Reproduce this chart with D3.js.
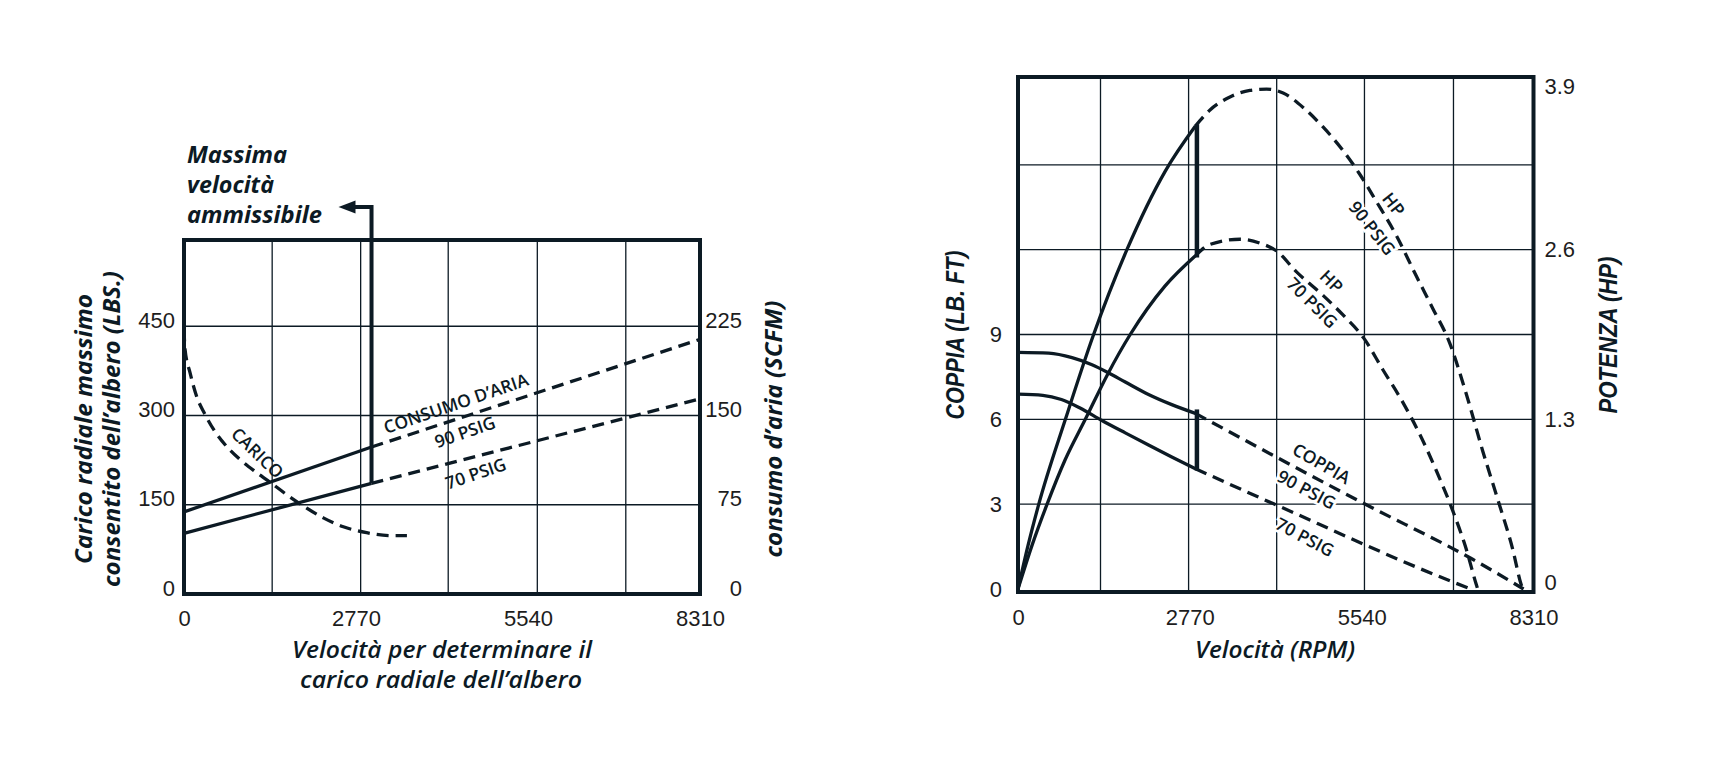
<!DOCTYPE html>
<html>
<head>
<meta charset="utf-8">
<script src="https://cdn.jsdelivr.net/npm/d3@7"></script>
<style>
  body { margin: 0; background: #fff; }
  svg { display: block; }
</style>
</head>
<body>
<svg id="chart"></svg>
<script>
// ---- data ----
const speedTicks = [0, 2770, 5540, 8310];
const loadTicks = [0, 150, 300, 450];
const airTicks = [0, 75, 150, 225];
const torqueTicks = [0, 3, 6, 9];
const powerTicks = [0, 1.3, 2.6, 3.9];

const leftGridX = [1420, 2845, 4255, 5690, 7115];
const rightGridX = [1330, 2750, 4170, 5585, 7020];
const loadGrid = [150, 300, 450];
const torqueGrid = [3, 6, 9, 12, 15];

const maxSpeedLeft = 3020;   // rpm, "Massima velocità ammissibile"
const maxSpeedRight = 2860;

// [rpm, lbs]
const caricoLoad = [[0, 445], [16, 412], [97, 372], [204, 332], [338, 302], [499, 273], [687, 248],
  [902, 226], [1143, 206], [1385, 188], [1654, 167], [1922, 148], [2244, 128], [2566, 113],
  [2942, 103], [3371, 98], [3590, 98]];
// [rpm, scfm]
const air90 = [[0, 69], [3020, 123.5], [8310, 214]];
const air70 = [[0, 51], [3020, 93], [8310, 164]];

// [rpm, lb-ft]
const torque90 = [[0, 8.37], [496, 8.34], [871, 8.18], [1193, 7.93], [1461, 7.64], [1729, 7.32],
  [2104, 6.88], [2479, 6.52], [2860, 6.21], [5560, 3.04], [7329, 1.05], [8150, 0]];
const torque70 = [[0, 6.89], [400, 6.85], [700, 6.70], [1000, 6.40], [1353, 5.96], [1729, 5.52],
  [2104, 5.09], [2479, 4.67], [2860, 4.25], [4113, 3.02], [7008, 0.25], [7300, 0]];
// [rpm, hp]
const power90 = [[0, 0], [160, 0.33], [335, 0.65], [764, 1.30], [1219, 1.95], [1756, 2.60],
  [2372, 3.20], [2860, 3.547], [3095, 3.67], [3417, 3.77], [3738, 3.82], [4007, 3.83],
  [4274, 3.80], [4596, 3.69], [4917, 3.54], [5239, 3.36], [5507, 3.18], [5776, 2.97],
  [6097, 2.71], [6419, 2.40], [6686, 2.15], [6955, 1.89], [7223, 1.50], [7490, 1.06],
  [7758, 0.65], [7972, 0.31], [8107, 0.04], [8134, 0]];
const power70 = [[0, 0], [230, 0.34], [469, 0.65], [760, 0.99], [1085, 1.30], [1450, 1.65],
  [1809, 1.95], [2372, 2.323], [2860, 2.554], [3095, 2.64], [3578, 2.68], [3899, 2.65],
  [4168, 2.59], [4489, 2.43], [4917, 2.25], [5239, 2.10], [5577, 1.92], [5882, 1.68],
  [6204, 1.43], [6472, 1.19], [6741, 0.91], [7008, 0.60], [7223, 0.31], [7384, 0.04], [7410, 0]];

const torqueBar = [4.19, 6.35];
const powerBar = [2.54, 3.56];

// ---- setup ----
const W = 1721, H = 773;
const ink = "#0c1a24";
const tickFont = "'Liberation Sans', Arial, sans-serif";
const titleFont = "'Open Sans', sans-serif";

const svg = d3.select("#chart").attr("width", W).attr("height", H);
svg.append("rect").attr("width", W).attr("height", H).attr("fill", "#fff");

const boxL = {x0: 184, x1: 700, y0: 240, y1: 594};
const boxR = {x0: 1018, x1: 1533.5, y0: 77, y1: 592};

const xL = d3.scaleLinear().domain([0, 8310]).range([boxL.x0, boxL.x1]);
const yLoad = d3.scaleLinear().domain([0, 595]).range([boxL.y1, boxL.y0]);
const yAir = d3.scaleLinear().domain([0, 297.5]).range([boxL.y1, boxL.y0]);

const xR = d3.scaleLinear().domain([0, 8310]).range([boxR.x0, boxR.x1]);
const yTorque = d3.scaleLinear().domain([0, 18]).range([589, 80]);
const yPower = d3.scaleLinear().domain([0, 3.9]).range([589, 80]);

const smooth = (x, y) => d3.line().x(d => x(d[0])).y(d => y(d[1])).curve(d3.curveMonotoneX);
const straight = (x, y) => d3.line().x(d => x(d[0])).y(d => y(d[1]));

function grid(g, x, y, gx, gy, box) {
  g.selectAll(".vg").data(gx).join("line").attr("class", "vg")
    .attr("x1", d => x(d)).attr("x2", d => x(d))
    .attr("y1", box.y0).attr("y2", box.y1)
    .attr("stroke", ink).attr("stroke-width", 1.3);
  g.selectAll(".hg").data(gy).join("line").attr("class", "hg")
    .attr("x1", box.x0).attr("x2", box.x1)
    .attr("y1", d => y(d)).attr("y2", d => y(d))
    .attr("stroke", ink).attr("stroke-width", 1.3);
}

function curve(g, pts, gen, limit) {
  const solid = limit == null ? [] : pts.filter(d => d[0] <= limit);
  const dashed = limit == null ? pts : pts.filter(d => d[0] >= limit);
  if (solid.length > 1)
    g.append("path").attr("d", gen(solid)).attr("fill", "none")
      .attr("stroke", ink).attr("stroke-width", 3.3);
  g.append("path").attr("d", gen(dashed)).attr("fill", "none")
    .attr("stroke", ink).attr("stroke-width", 3.3).attr("stroke-dasharray", "12 7");
}

function tickStyle(g) {
  g.attr("font-family", tickFont).attr("font-size", 22);
  g.select(".domain").remove();
  g.selectAll("text").attr("fill", "#1d1d1d");
}

function note(g, t, x, y, a, halo) {
  const el = g.append("text")
    .attr("transform", `translate(${x},${y}) rotate(${a})`)
    .attr("text-anchor", "middle").attr("dy", "0.35em")
    .attr("font-family", titleFont).attr("font-weight", 600).attr("font-size", 17.5)
    .attr("fill", ink).text(t);
  if (halo) el.attr("stroke", "#fff").attr("stroke-width", 5).attr("paint-order", "stroke");
}

// title text squeezed to the measured length of the original lettering
function title(g, t, x, y, len, opts) {
  const o = Object.assign({rot: 0, size: 23, weight: 700, family: titleFont, anchor: "middle"}, opts);
  return g.append("text")
    .attr("transform", `translate(${x},${y}) rotate(${o.rot})`)
    .attr("text-anchor", o.anchor)
    .attr("font-family", o.family).attr("font-weight", o.weight).attr("font-style", "italic")
    .attr("font-size", o.size).attr("fill", ink)
    .attr("textLength", len).attr("lengthAdjust", "spacingAndGlyphs")
    .text(t);
}

// ================= left chart =================
const gl = svg.append("g");
grid(gl, xL, yLoad, leftGridX, loadGrid, boxL);

curve(gl, caricoLoad, smooth(xL, yLoad), null);
curve(gl, air90, straight(xL, yAir), maxSpeedLeft);
curve(gl, air70, straight(xL, yAir), maxSpeedLeft);

// max speed marker with arrow
const limitX = xL(maxSpeedLeft);
const limitBottom = yAir(air70.find(d => d[0] === maxSpeedLeft)[1]);
const arrowY = boxL.y0 - 33;
gl.append("path")
  .attr("d", `M${limitX},${limitBottom}V${arrowY}H${limitX - 18}`)
  .attr("fill", "none").attr("stroke", ink).attr("stroke-width", 4);
gl.append("path")
  .attr("d", `M${limitX - 16},${arrowY - 6.5}L${limitX - 33},${arrowY}L${limitX - 16},${arrowY + 6.5}Z`)
  .attr("fill", ink);

gl.append("rect")
  .attr("x", boxL.x0).attr("y", boxL.y0)
  .attr("width", boxL.x1 - boxL.x0).attr("height", boxL.y1 - boxL.y0)
  .attr("fill", "none").attr("stroke", ink).attr("stroke-width", 4);

gl.append("g").attr("transform", `translate(0,${boxL.y1})`)
  .call(d3.axisBottom(xL).tickValues(speedTicks).tickSize(0).tickPadding(16).tickFormat(d3.format("d")))
  .call(tickStyle);
gl.append("g").attr("transform", `translate(${boxL.x0},0)`)
  .call(d3.axisLeft(yLoad).tickValues(loadTicks).tickSize(0).tickPadding(9))
  .call(tickStyle)
  .selectAll("text").attr("dy", "0.05em");
gl.append("g").attr("transform", `translate(${boxL.x1},0)`)
  .call(d3.axisRight(yAir).tickValues(airTicks).tickSize(0))
  .call(tickStyle)
  .selectAll("text").attr("x", 42).attr("text-anchor", "end").attr("dy", "0.05em");

note(gl, "CARICO", xL(1180), yLoad(237), 44, false);
note(gl, "CONSUMO D\u2019ARIA", xL(4380), yAir(160), -19, false);
note(gl, "90 PSIG", xL(4525), yAir(136), -19, false);
note(gl, "70 PSIG", xL(4700), yAir(101), -19, false);

title(gl, "Massima", boxL.x0 + 3, 163, 100, {anchor: "start", size: 24});
title(gl, "velocit\u00e0", boxL.x0 + 3, 193, 87, {anchor: "start", size: 24});
title(gl, "ammissibile", boxL.x0 + 3, 223, 135, {anchor: "start", size: 24});

title(gl, "Carico radiale massimo", 92, 429, 270, {rot: -90});
title(gl, "consentito dell\u2019albero (LBS.)", 120, 429, 316, {rot: -90});
title(gl, "consumo d\u2019aria (SCFM)", 782, 429, 257, {rot: -90});

title(gl, "Velocit\u00e0 per determinare il", 442, 658, 300, {weight: 600, size: 24});
title(gl, "carico radiale dell\u2019albero", 441, 688, 282, {weight: 600, size: 24});

// ================= right chart =================
const gr = svg.append("g");
grid(gr, xR, yTorque, rightGridX, torqueGrid, boxR);

curve(gr, torque90, smooth(xR, yTorque), maxSpeedRight);
curve(gr, torque70, smooth(xR, yTorque), maxSpeedRight);
curve(gr, power90, smooth(xR, yPower), maxSpeedRight);
curve(gr, power70, smooth(xR, yPower), maxSpeedRight);

const barX = xR(maxSpeedRight) + 1.5;
gr.append("line").attr("x1", barX).attr("x2", barX)
  .attr("y1", yTorque(torqueBar[0])).attr("y2", yTorque(torqueBar[1]))
  .attr("stroke", ink).attr("stroke-width", 4.5);
gr.append("line").attr("x1", barX).attr("x2", barX)
  .attr("y1", yPower(powerBar[0])).attr("y2", yPower(powerBar[1]))
  .attr("stroke", ink).attr("stroke-width", 4.5);

gr.append("rect")
  .attr("x", boxR.x0).attr("y", boxR.y0)
  .attr("width", boxR.x1 - boxR.x0).attr("height", boxR.y1 - boxR.y0)
  .attr("fill", "none").attr("stroke", ink).attr("stroke-width", 4);

gr.append("g").attr("transform", `translate(0,${boxR.y1})`)
  .call(d3.axisBottom(xR).tickValues(speedTicks).tickSize(0).tickPadding(17).tickFormat(d3.format("d")))
  .call(tickStyle);
gr.append("g").attr("transform", `translate(${boxR.x0},0)`)
  .call(d3.axisLeft(yTorque).tickValues(torqueTicks).tickSize(0).tickPadding(16))
  .call(tickStyle)
  .selectAll("text")
  .attr("y", d => Math.min(boxR.y1 - 3, yTorque(d)) - yTorque(d));
gr.append("g").attr("transform", `translate(${boxR.x1},0)`)
  .call(d3.axisRight(yPower).tickValues(powerTicks).tickSize(0).tickPadding(11).tickFormat(d => d === 0 ? "0" : d3.format(".1f")(d)))
  .call(tickStyle)
  .selectAll("text")
  .attr("y", d => Math.max(boxR.y0 + 9, Math.min(boxR.y1 - 10, yPower(d))) - yPower(d));

note(gr, "HP", xR(6054), yTorque(13.6), 52, true);
note(gr, "90 PSIG", xR(5706), yTorque(12.76), 52, true);
note(gr, "HP", xR(5052), yTorque(10.87), 45, true);
note(gr, "70 PSIG", xR(4741), yTorque(10.12), 45, true);
note(gr, "COPPIA", xR(4891), yTorque(4.43), 30, true);
note(gr, "90 PSIG", xR(4650), yTorque(3.51), 28, true);
note(gr, "70 PSIG", xR(4623), yTorque(1.83), 28, true);

title(gr, "COPPIA (LB. FT)", 964, 335, 169, {rot: -90, family: tickFont, size: 25});
title(gr, "POTENZA (HP)", 1617, 335, 157, {rot: -90, family: tickFont, size: 25});

title(gr, "Velocit\u00e0 (RPM)", 1275, 658, 160, {weight: 600, size: 24});
</script>
</body>
</html>
